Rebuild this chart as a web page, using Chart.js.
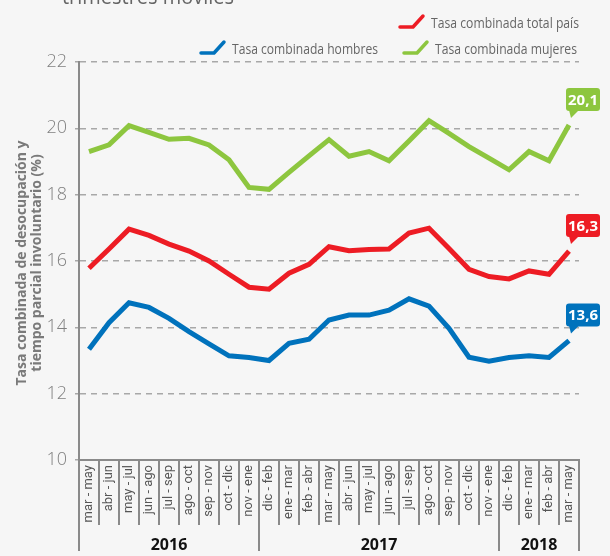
<!DOCTYPE html>
<html>
<head>
<meta charset="utf-8">
<script src="https://cdn.jsdelivr.net/npm/chart.js@4.4.1/dist/chart.umd.min.js"></script>
<style>
  html, body { margin: 0; padding: 0; background: #f6f6f6; }
  #wrap { position: relative; width: 610px; height: 556px; overflow: hidden; }
  canvas { display: block; }
</style>
</head>
<body>
<div id="wrap"><canvas id="chart" width="610" height="556"></canvas></div>
<script>
'use strict';

// categories (moving quarters)
const periods = ['mar - may', 'abr - jun', 'may - jul', 'jun - ago', 'jul - sep', 'ago - oct', 'sep - nov', 'oct - dic', 'nov - ene',
    'dic - feb', 'ene - mar', 'feb - abr', 'mar - may', 'abr - jun', 'may - jul', 'jun - ago', 'jul - sep', 'ago - oct', 'sep - nov', 'oct - dic', 'nov - ene',
    'dic - feb', 'ene - mar', 'feb - abr', 'mar - may'];

// year groups: label and index of first period
const yearLabels = ['2016', '2017', '2018'];
const yearStart = [0, 9, 21];

// series values (%)
const totalPais = [15.78, 16.36, 16.96, 16.77, 16.51, 16.3, 16.0, 15.6, 15.21, 15.15, 15.63, 15.9, 16.43,
    16.31, 16.35, 16.36, 16.84, 16.99, 16.38, 15.75, 15.53, 15.46, 15.7, 15.6, 16.3];
const hombres = [13.34, 14.14, 14.74, 14.6, 14.27, 13.87, 13.5, 13.14, 13.09, 13.0, 13.52, 13.64, 14.22,
    14.37, 14.37, 14.52, 14.86, 14.64, 13.97, 13.1, 12.98, 13.09, 13.14, 13.09, 13.6];
const mujeres = [19.3, 19.5, 20.08, 19.88, 19.67, 19.7, 19.5, 19.05, 18.22, 18.16, 18.67, 19.17, 19.66,
    19.16, 19.3, 19.02, 19.62, 20.23, 19.85, 19.45, 19.1, 18.75, 19.3, 19.02, 20.1];

const yTicks = [10, 12, 14, 16, 18, 20, 22];

const colors = { total: '#ed1c24', hombres: '#0072bc', mujeres: '#8dc63f' };

// draw text squeezed/stretched to a given width
function fitText(ctx, text, x, y, width) {
    const w = ctx.measureText(text).width;
    ctx.save();
    ctx.translate(x, y);
    ctx.scale(width / w, 1);
    ctx.fillText(text, 0, 0);
    ctx.restore();
}

const decorations = {
    id: 'decorations',
    afterDraw(chart) {
        const ctx = chart.ctx;
        const xs = chart.scales.x;
        const area = chart.chartArea;
        const step = xs.getPixelForValue(1) - xs.getPixelForValue(0);

        // cut-off subtitle at the top
        ctx.save();
        ctx.fillStyle = '#666';
        ctx.font = '22px "Open Sans", sans-serif';
        ctx.textAlign = 'left';
        ctx.textBaseline = 'alphabetic';
        fitText(ctx, 'trimestres móviles', 62, 4, 172);

        // legend
        const legend = [
            { text: 'Tasa combinada total país', color: colors.total, x: 400, y: 28, w: 148 },
            { text: 'Tasa combinada hombres', color: colors.hombres, x: 201, y: 54, w: 146 },
            { text: 'Tasa combinada mujeres', color: colors.mujeres, x: 404, y: 54, w: 142 }
        ];
        legend.forEach(item => {
            ctx.strokeStyle = item.color;
            ctx.lineWidth = 3.5;
            ctx.lineCap = 'round';
            ctx.lineJoin = 'round';
            ctx.beginPath();
            ctx.moveTo(item.x, item.y - 1);
            ctx.lineTo(item.x + 13, item.y - 1);
            ctx.lineTo(item.x + 23, item.y - 12);
            ctx.stroke();
            ctx.fillStyle = '#666';
            ctx.font = '15px "Open Sans", sans-serif';
            fitText(ctx, item.text, item.x + 31, item.y, item.w);
        });

        // y axis title
        ctx.fillStyle = '#7a7a7a';
        ctx.font = 'bold 14px "Open Sans", sans-serif';
        ctx.textAlign = 'center';
        ctx.textBaseline = 'middle';
        [['Tasa combinada de desocupación y', 22], ['tiempo parcial involuntario (%)', 37]].forEach(([t, x]) => {
            ctx.save();
            ctx.translate(x, (area.top + area.bottom) / 2 + 2);
            ctx.rotate(-Math.PI / 2);
            ctx.fillText(t, 0, 0);
            ctx.restore();
        });

        // year row
        ctx.strokeStyle = '#8a8a8a';
        ctx.lineWidth = 2;
        ctx.lineCap = 'butt';
        const bounds = yearStart.map(i => xs.getPixelForValue(i) - step / 2);
        bounds.push(xs.getPixelForValue(periods.length - 1) + step / 2);
        bounds.forEach(bx => {
            ctx.beginPath();
            ctx.moveTo(bx, area.bottom);
            ctx.lineTo(bx, 551);
            ctx.stroke();
        });
        ctx.fillStyle = '#111';
        ctx.font = 'bold 16px "Open Sans", sans-serif';
        ctx.textAlign = 'center';
        ctx.textBaseline = 'middle';
        yearLabels.forEach((y, k) => {
            ctx.fillText(y, (bounds[k] + bounds[k + 1]) / 2, 545);
        });

        // end-value callouts
        chart.data.datasets.forEach((ds, di) => {
            const pt = chart.getDatasetMeta(di).data[ds.data.length - 1];
            const label = ds.data[ds.data.length - 1].toFixed(1).replace('.', ',');
            const tipX = pt.x + 2, tipY = pt.y - 7;
            const bw = 34, bh = 23, bx = pt.x - 3, by = tipY - 7 - bh;
            ctx.fillStyle = ds.borderColor;
            ctx.beginPath();
            ctx.roundRect(bx, by, bw, bh, 3);
            ctx.fill();
            ctx.beginPath();
            ctx.moveTo(bx + 3, by + bh - 1);
            ctx.lineTo(bx + 13, by + bh - 1);
            ctx.lineTo(tipX, tipY);
            ctx.closePath();
            ctx.fill();
            ctx.fillStyle = '#fff';
            ctx.font = 'bold 15px "Open Sans", sans-serif';
            ctx.textAlign = 'center';
            ctx.textBaseline = 'middle';
            ctx.fillText(label, bx + bw / 2, by + bh / 2 + 1);
        });
        ctx.restore();
    }
};

function makeLine(label, data, color) {
    return {
        label: label, data: data, borderColor: color, backgroundColor: color,
        borderWidth: 5, pointRadius: 0, pointHoverRadius: 0, tension: 0, fill: false,
        borderCapStyle: 'butt', borderJoinStyle: 'miter'
    };
}

new Chart(document.getElementById('chart'), {
    type: 'line',
    data: {
        labels: periods,
        datasets: [
            makeLine('Tasa combinada mujeres', mujeres, colors.mujeres),
            makeLine('Tasa combinada total país', totalPais, colors.total),
            makeLine('Tasa combinada hombres', hombres, colors.hombres)
        ]
    },
    options: {
        responsive: false,
        animation: false,
        devicePixelRatio: 1,
        layout: { padding: { top: 62, right: 31, left: 0, bottom: 0 } },
        plugins: { legend: { display: false }, tooltip: { enabled: false } },
        scales: {
            x: {
                type: 'category',
                offset: true,
                afterFit: scale => { scale.height = 96; },
                border: { display: true, color: '#8a8a8a', width: 2 },
                grid: {
                    offset: true, drawOnChartArea: false, drawTicks: true,
                    tickLength: 65, color: '#8a8a8a', lineWidth: 2
                },
                ticks: {
                    autoSkip: false, minRotation: 90, maxRotation: 90, padding: -60,
                    color: '#555',
                    font: { family: '"Liberation Sans Narrow", "Roboto", sans-serif', size: 13 }
                }
            },
            y: {
                min: 10, max: 22,
                afterFit: scale => { scale.width = 79; },
                afterBuildTicks: scale => { scale.ticks = yTicks.map(v => ({ value: v })); },
                border: { display: true, color: '#8a8a8a', width: 2, dash: [6, 5] },
                grid: {
                    color: '#a8a8a8', lineWidth: 1.5, tickLength: 4,
                    drawTicks: true
                },
                ticks: {
                    color: '#808080', padding: 8,
                    font: { family: '"Open Sans", sans-serif', size: 18, weight: '300' }
                }
            }
        }
    },
    plugins: [decorations]
});
</script>
</body>
</html>
